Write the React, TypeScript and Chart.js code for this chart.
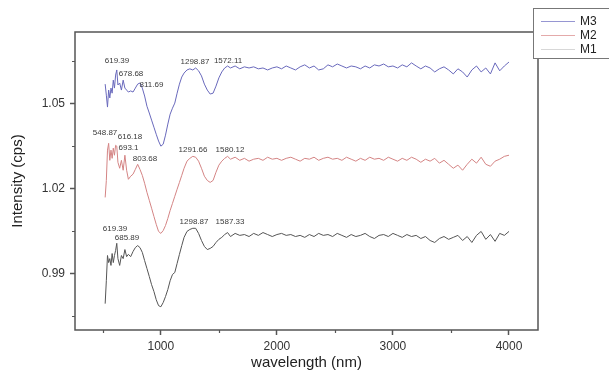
import React, { useEffect, useRef } from 'react';
import { Chart, registerables } from 'chart.js';

Chart.register(...registerables);

const FONT = "'Liberation Sans', Arial, sans-serif";

// shared wavelength grid (nm)
const wavelengths = [
  520, 530, 540, 550, 560, 570, 580, 590, 600, 610, 620, 630, 645, 660, 675, 690, 705, 720,
  740, 760, 780, 800, 820, 840, 860, 880, 900, 920, 940, 960, 980, 1000, 1020, 1040, 1060, 1080,
  1100, 1120, 1140, 1160, 1180, 1200, 1225, 1250, 1275, 1300, 1325, 1350, 1375, 1400, 1425, 1450,
  1475, 1500, 1525, 1550, 1575,
  1600, 1640, 1680, 1720, 1760, 1800, 1840, 1880, 1920, 1960, 2000, 2040, 2080, 2120, 2160, 2200,
  2240, 2280, 2320, 2360, 2400, 2440, 2480, 2520, 2560, 2600, 2640, 2680, 2720, 2760, 2800, 2840,
  2880, 2920, 2960, 3000, 3040, 3080, 3120, 3160, 3200, 3240, 3280, 3320, 3360, 3400, 3440, 3480,
  3520, 3560, 3600, 3640, 3680, 3720, 3760, 3800, 3840, 3880, 3920, 3960, 4000,
];

const m3 = [
  1.0568, 1.0529, 1.0487, 1.0547, 1.0519, 1.0554, 1.0536, 1.0582, 1.0554, 1.0600, 1.0618, 1.0565,
  1.0572, 1.0547, 1.0582, 1.0554, 1.0547, 1.0540, 1.0544, 1.0540, 1.0554, 1.0568, 1.0572, 1.0554,
  1.0526, 1.0490, 1.0466, 1.0441, 1.0416, 1.0391, 1.0367, 1.0349, 1.0356, 1.0388, 1.0427, 1.0462,
  1.0483, 1.0501, 1.0536, 1.0568, 1.0593, 1.0607, 1.0618, 1.0622, 1.0618, 1.0625, 1.0615, 1.0597,
  1.0568, 1.0547, 1.0533, 1.0536, 1.0561, 1.0590, 1.0611, 1.0625, 1.0632,
  1.0625, 1.0632, 1.0622, 1.0629, 1.0625, 1.0629, 1.0622, 1.0625, 1.0618, 1.0625, 1.0629, 1.0622,
  1.0632, 1.0625, 1.0618, 1.0629, 1.0636, 1.0625, 1.0632, 1.0618, 1.0622, 1.0636, 1.0629, 1.0639,
  1.0632, 1.0625, 1.0632, 1.0629, 1.0622, 1.0632, 1.0625, 1.0636, 1.0632, 1.0639, 1.0629, 1.0632,
  1.0625, 1.0636, 1.0629, 1.0643, 1.0632, 1.0622, 1.0632, 1.0625, 1.0611, 1.0622, 1.0629, 1.0618,
  1.0604, 1.0622, 1.0611, 1.0593, 1.0618, 1.0632, 1.0611, 1.0625, 1.0604, 1.0643, 1.0615, 1.0632,
  1.0646,
];

const m2 = [
  1.0168, 1.0228, 1.0335, 1.0359, 1.0299, 1.0335, 1.0306, 1.0342, 1.0317, 1.0352, 1.0349, 1.0292,
  1.0271, 1.0299, 1.0264, 1.0317, 1.0264, 1.0232, 1.0243, 1.0250, 1.0267, 1.0285, 1.0267, 1.0246,
  1.0218, 1.0186, 1.0158, 1.0130, 1.0101, 1.0073, 1.0048, 1.0041, 1.0051, 1.0069, 1.0094, 1.0122,
  1.0147, 1.0172, 1.0197, 1.0221, 1.0246, 1.0271, 1.0296, 1.0306, 1.0313, 1.0310, 1.0296, 1.0271,
  1.0243, 1.0228, 1.0221, 1.0228, 1.0257, 1.0282, 1.0296, 1.0306, 1.0313,
  1.0303, 1.0310, 1.0299, 1.0306, 1.0296, 1.0303, 1.0306, 1.0299, 1.0310, 1.0303, 1.0306, 1.0299,
  1.0306, 1.0310, 1.0303, 1.0296, 1.0306, 1.0303, 1.0310, 1.0299, 1.0306, 1.0310, 1.0303, 1.0306,
  1.0299, 1.0310, 1.0303, 1.0296, 1.0306, 1.0299, 1.0310, 1.0303, 1.0306, 1.0299, 1.0310, 1.0303,
  1.0296, 1.0306, 1.0299, 1.0310, 1.0303, 1.0292, 1.0303, 1.0296, 1.0306, 1.0289, 1.0299, 1.0285,
  1.0271, 1.0282, 1.0264, 1.0285, 1.0303, 1.0289, 1.0310, 1.0285, 1.0278, 1.0296, 1.0303, 1.0313,
  1.0317,
];

const m1 = [
  0.9793, 0.9874, 0.9963, 0.9938, 0.9952, 0.9928, 0.9970, 0.9938, 0.9963, 0.9981, 1.0006, 0.9952,
  0.9928, 0.9963, 0.9952, 0.9984, 0.9959, 0.9967, 0.9959, 0.9977, 0.9991, 0.9998, 0.9991, 0.9974,
  0.9945, 0.9917, 0.9889, 0.9860, 0.9836, 0.9807, 0.9786, 0.9782, 0.9797, 0.9818, 0.9843, 0.9874,
  0.9896, 0.9903, 0.9935, 0.9967, 0.9998, 1.0027, 1.0048, 1.0055, 1.0059, 1.0059, 1.0041, 1.0016,
  0.9995, 0.9984, 0.9988, 0.9995, 1.0009, 1.0020, 1.0027, 1.0037, 1.0044,
  1.0030, 1.0041, 1.0034, 1.0037, 1.0030, 1.0041, 1.0034, 1.0044, 1.0037, 1.0030, 1.0037, 1.0041,
  1.0034, 1.0037, 1.0030, 1.0034, 1.0027, 1.0037, 1.0030, 1.0041, 1.0034, 1.0037, 1.0030, 1.0041,
  1.0034, 1.0027, 1.0037, 1.0030, 1.0034, 1.0041, 1.0030, 1.0023, 1.0034, 1.0037, 1.0030, 1.0041,
  1.0034, 1.0027, 1.0037, 1.0030, 1.0034, 1.0023, 1.0030, 1.0016, 1.0009, 1.0023, 1.0030, 1.0020,
  1.0027, 1.0034, 1.0016, 1.0030, 1.0009, 1.0034, 1.0048, 1.0020, 1.0037, 1.0013, 1.0041, 1.0034,
  1.0048,
];

const seriesNames = ['M3', 'M2', 'M1'];
const seriesColors = ['rgb(105,105,188)', 'rgb(212,132,132)', 'rgb(85,85,85)'];
const legendColors = ['rgb(150,150,210)', 'rgb(228,170,170)', 'rgb(215,215,215)'];

const xMajorTicks = [1000, 2000, 3000, 4000];
const xMinorTicks = [500, 1500, 2500, 3500];
const yMajorTicks = [0.99, 1.02, 1.05];
const yMinorTicks = [0.975, 1.005, 1.035, 1.065];

// peak annotations: text, x (nm) and y (cps) of the text centre
const peakTexts = ['619.39', '678.68', '811.69', '1298.87', '1572.11', '548.87', '616.18', '693.1', '803.68', '1291.66', '1580.12', '619.39', '685.89', '1298.87', '1587.33'];
const peakTextX = [622, 743, 919, 1294, 1579, 519, 734, 721, 863, 1277, 1596, 605, 708, 1286, 1596];
const peakTextY = [1.0650, 1.0604, 1.0565, 1.0646, 1.0650, 1.0395, 1.0381, 1.0343, 1.0304, 1.0335, 1.0335, 1.0057, 1.0025, 1.0081, 1.0081];

const decorPlugin = {
  id: 'decor',
  afterDraw(chart: any) {
    const { ctx, chartArea, scales } = chart;
    const xs = scales.x;
    const ys = scales.y;
    ctx.save();
    // frame
    ctx.strokeStyle = '#555';
    ctx.lineWidth = 1.5;
    ctx.strokeRect(chartArea.left, chartArea.top, chartArea.right - chartArea.left, chartArea.bottom - chartArea.top);
    // minor ticks
    ctx.lineWidth = 1.2;
    ctx.beginPath();
    xMinorTicks.forEach((v) => {
      const px = Math.round(xs.getPixelForValue(v)) + 0.5;
      ctx.moveTo(px, chartArea.bottom);
      ctx.lineTo(px, chartArea.bottom + 3);
    });
    yMinorTicks.forEach((v) => {
      const py = Math.round(ys.getPixelForValue(v)) + 0.5;
      ctx.moveTo(chartArea.left - 3, py);
      ctx.lineTo(chartArea.left, py);
    });
    ctx.stroke();
    // peak labels
    ctx.fillStyle = '#3a3a3a';
    ctx.font = `8px ${FONT}`;
    ctx.textAlign = 'center';
    ctx.textBaseline = 'middle';
    peakTexts.forEach((t, i) => {
      ctx.fillText(t, xs.getPixelForValue(peakTextX[i]), ys.getPixelForValue(peakTextY[i]));
    });
    // legend box
    const lx = 533;
    const ly = 8;
    ctx.fillStyle = '#fff';
    ctx.fillRect(lx, ly, 90, 50);
    ctx.strokeStyle = '#777';
    ctx.lineWidth = 1;
    ctx.strokeRect(lx + 0.5, ly + 0.5, 100, 50);
    const rows = [21, 35, 49];
    ctx.font = `12px ${FONT}`;
    ctx.textAlign = 'left';
    seriesNames.forEach((n, i) => {
      ctx.strokeStyle = legendColors[i];
      ctx.lineWidth = 1;
      ctx.beginPath();
      ctx.moveTo(541, rows[i] + 0.5);
      ctx.lineTo(575, rows[i] + 0.5);
      ctx.stroke();
      ctx.fillStyle = '#222';
      ctx.fillText(n, 580, rows[i] + 1);
    });
    ctx.restore();
  },
};

export default function App() {
  const ref = useRef<HTMLCanvasElement | null>(null);
  useEffect(() => {
    if (!ref.current) return;
    const seriesValues = [m3, m2, m1];
    const chart = new Chart(ref.current, {
      type: 'line',
      data: {
        datasets: seriesNames.map((name, si) => ({
          label: name,
          data: wavelengths.map((w, i) => ({ x: w, y: seriesValues[si][i] })),
          borderColor: seriesColors[si],
          borderWidth: 1,
          pointRadius: 0,
          tension: 0,
          fill: false,
        })),
      },
      options: {
        animation: false,
        responsive: false,
        devicePixelRatio: 1,
        layout: { padding: { top: 32, right: 71, left: 0, bottom: 0 } },
        plugins: { legend: { display: false }, tooltip: { enabled: false } },
        scales: {
          x: {
            type: 'linear',
            min: 260,
            max: 4250,
            afterBuildTicks: (s: any) => {
              s.ticks = xMajorTicks.map((v) => ({ value: v }));
            },
            afterFit: (s: any) => {
              s.height = 42;
            },
            border: { display: false },
            grid: { display: true, drawOnChartArea: false, drawTicks: true, tickLength: 5, tickColor: '#555', tickWidth: 1.5 },
            ticks: { padding: 4, color: '#333', font: { family: FONT, size: 12 }, maxRotation: 0, autoSkip: false, callback: (v: any) => String(v) },
            title: { display: true, text: 'wavelength (nm)', color: '#222', font: { family: FONT, size: 15 }, padding: { top: 0, bottom: 0 } },
          },
          y: {
            type: 'linear',
            min: 0.97,
            max: 1.0752,
            afterBuildTicks: (s: any) => {
              s.ticks = yMajorTicks.map((v) => ({ value: v }));
            },
            afterFit: (s: any) => {
              s.width = 75;
            },
            border: { display: false },
            grid: { display: true, drawOnChartArea: false, drawTicks: true, tickLength: 5, tickColor: '#555', tickWidth: 1.5 },
            ticks: { padding: 5, color: '#333', font: { family: FONT, size: 12 }, callback: (v: any) => Number(v).toFixed(2) },
            title: { display: true, text: 'Intensity (cps)', color: '#222', font: { family: FONT, size: 15 }, padding: { top: 9, bottom: 0 } },
          },
        },
      },
      plugins: [decorPlugin],
    } as any);
    return () => chart.destroy();
  }, []);
  return (
    <div style={{ position: 'fixed', left: 0, top: 0, width: 609, height: 372, background: '#fff' }}>
      <canvas ref={ref} width={609} height={372} />
    </div>
  );
}
